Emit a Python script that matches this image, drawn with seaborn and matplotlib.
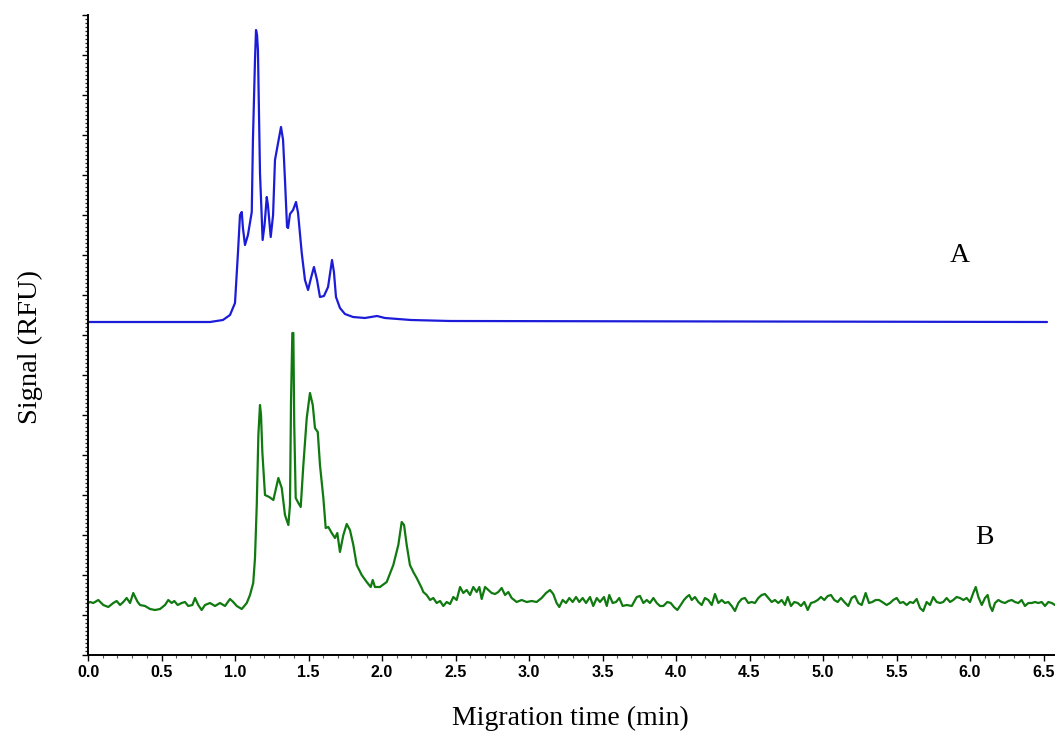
import numpy as np
import pandas as pd
import matplotlib
matplotlib.use("Agg")
import matplotlib.pyplot as plt
from matplotlib.ticker import MultipleLocator, FormatStrFormatter
import seaborn as sns

# Electropherogram A: migration time (min) and signal above its own baseline
time_a = [0.000, 0.830, 0.918, 0.966, 1.000, 1.020, 1.034, 1.046, 1.054, 1.068,
          1.088, 1.114, 1.122, 1.136, 1.143, 1.150, 1.156, 1.170, 1.188, 1.201,
          1.216, 1.224, 1.243, 1.259, 1.272, 1.293, 1.313, 1.327, 1.340, 1.354,
          1.361, 1.374, 1.395, 1.415, 1.429, 1.454, 1.476, 1.497, 1.517, 1.537,
          1.558, 1.578, 1.605, 1.633, 1.660, 1.673, 1.687, 1.714, 1.748, 1.803,
          1.884, 1.966, 2.020, 2.197, 2.463, 6.524]
signal_a = [0, 0, 2, 7, 19, 69, 107, 110, 94, 77,
            87, 110, 182, 262, 292, 287, 272, 149, 82, 97,
            125, 117, 85, 107, 162, 179, 195, 182, 142, 95,
            94, 108, 112, 120, 109, 69, 42, 32, 44, 55,
            42, 25, 26, 35, 62, 50, 25, 14, 8, 5,
            4, 6, 4, 2, 1, 0]

# Electropherogram B: migration time (min) and signal above its own baseline
time_b = [0.000, 0.014, 0.036, 0.070, 0.104, 0.138, 0.172, 0.195, 0.218, 0.240,
          0.263, 0.286, 0.308, 0.324, 0.338, 0.354, 0.388, 0.422, 0.456, 0.490,
          0.524, 0.546, 0.569, 0.587, 0.610, 0.637, 0.660, 0.682, 0.710, 0.728,
          0.750, 0.773, 0.796, 0.830, 0.864, 0.898, 0.932, 0.966, 0.988, 1.012,
          1.046, 1.080, 1.102, 1.124, 1.136, 1.148, 1.159, 1.170, 1.177, 1.186,
          1.204, 1.233, 1.261, 1.295, 1.318, 1.340, 1.363, 1.374, 1.381, 1.390,
          1.397, 1.403, 1.413, 1.431, 1.447, 1.465, 1.488, 1.510, 1.529, 1.544,
          1.563, 1.578, 1.601, 1.617, 1.635, 1.658, 1.680, 1.696, 1.714, 1.737,
          1.760, 1.782, 1.805, 1.828, 1.862, 1.896, 1.923, 1.937, 1.952, 1.986,
          2.032, 2.077, 2.111, 2.134, 2.150, 2.168, 2.190, 2.213, 2.236, 2.270,
          2.281, 2.304, 2.327, 2.349, 2.372, 2.395, 2.417, 2.440, 2.463, 2.485,
          2.508, 2.531, 2.553, 2.576, 2.599, 2.621, 2.644, 2.662, 2.678, 2.701,
          2.723, 2.746, 2.769, 2.791, 2.814, 2.837, 2.859, 2.882, 2.916, 2.950,
          2.984, 3.018, 3.052, 3.086, 3.116, 3.143, 3.165, 3.188, 3.206, 3.229,
          3.252, 3.274, 3.297, 3.320, 3.342, 3.365, 3.388, 3.415, 3.437, 3.461,
          3.483, 3.510, 3.529, 3.546, 3.569, 3.592, 3.614, 3.637, 3.665, 3.699,
          3.733, 3.755, 3.778, 3.801, 3.823, 3.846, 3.869, 3.891, 3.914, 3.941,
          3.964, 3.986, 4.009, 4.032, 4.054, 4.073, 4.090, 4.107, 4.129, 4.152,
          4.175, 4.197, 4.220, 4.243, 4.265, 4.288, 4.311, 4.333, 4.356, 4.379,
          4.401, 4.424, 4.447, 4.469, 4.492, 4.515, 4.537, 4.560, 4.583, 4.605,
          4.628, 4.651, 4.673, 4.696, 4.719, 4.741, 4.760, 4.782, 4.805, 4.828,
          4.850, 4.873, 4.896, 4.918, 4.941, 4.964, 4.986, 5.009, 5.032, 5.054,
          5.077, 5.100, 5.122, 5.145, 5.172, 5.195, 5.218, 5.240, 5.263, 5.290,
          5.313, 5.335, 5.358, 5.381, 5.403, 5.433, 5.456, 5.478, 5.501, 5.524,
          5.546, 5.569, 5.592, 5.614, 5.637, 5.660, 5.682, 5.705, 5.728, 5.750,
          5.773, 5.796, 5.818, 5.841, 5.864, 5.886, 5.909, 5.932, 5.955, 5.977,
          6.000, 6.022, 6.039, 6.057, 6.080, 6.102, 6.120, 6.136, 6.152, 6.170,
          6.193, 6.216, 6.238, 6.261, 6.284, 6.306, 6.329, 6.351, 6.374, 6.397,
          6.420, 6.442, 6.465, 6.488, 6.510, 6.533, 6.556, 6.578]
signal_b = [0, 1, 0, 3, -2, -4, 0, 2, -2, 1,
            5, 0, 10, 5, 1, -2, -3, -6, -7, -6,
            -2, 3, 0, 2, -2, 0, 1, -3, -2, 5,
            -2, -7, -2, 0, -3, 0, -3, 4, 1, -3,
            -6, 0, 8, 20, 45, 98, 168, 198, 188, 151,
            108, 106, 103, 125, 115, 88, 78, 98, 201, 270,
            270, 178, 105, 100, 96, 138, 185, 210, 198, 175,
            171, 138, 105, 75, 76, 70, 65, 70, 51, 68,
            79, 73, 58, 38, 28, 21, 16, 23, 16, 16,
            21, 38, 58, 81, 78, 58, 38, 31, 25, 15,
            11, 8, 3, 5, 0, 2, -3, 1, -1, 6,
            3, 16, 10, 13, 8, 16, 11, 16, 4, 16,
            13, 10, 9, 11, 15, 8, 11, 5, 1, 3,
            1, 2, 1, 5, 10, 13, 9, 0, -4, 3,
            0, 5, 1, 6, 1, 5, 0, 6, -3, 5,
            1, 6, -3, 8, 0, 1, 5, -3, -2, -3,
            6, 7, 0, 3, 0, 5, 0, -3, -3, 1,
            0, -4, -7, -2, 3, 6, 8, 3, 6, 1,
            -2, 5, 3, -2, 9, 0, 3, 0, 1, -3,
            -8, 0, 4, 5, 0, 1, 0, 5, 8, 9,
            5, 1, 3, 0, 3, -2, 6, -3, 1, 0,
            -3, 1, -7, 0, 1, 3, 6, 3, 7, 8,
            3, 1, 5, 1, -3, 5, 7, 0, -2, 10,
            0, 1, 3, 3, 1, -2, 0, 3, 5, 0,
            1, -2, 1, 0, 4, -5, -8, 1, -2, 6,
            1, 0, 1, 5, 1, 3, 6, 5, 3, 5,
            1, 10, 16, 6, -2, 5, 8, -3, -8, 0,
            3, 1, 0, 2, 3, 1, 0, 3, -3, 0,
            0, 1, 0, 1, -3, 1, 0, -2]

trace_labels = ["A", "B"]

# vertical stacking of the two traces on the shared signal axis
offset_a = 333
offset_b = 52

df_a = pd.DataFrame({"time": time_a, "signal": np.array(signal_a) + offset_a})
df_b = pd.DataFrame({"time": time_b, "signal": np.array(signal_b) + offset_b})

sns.set_theme(style="white")
plt.rcParams["font.family"] = ["DejaVu Sans"]

W, H = 1055, 734
fig = plt.figure(figsize=(W / 100, H / 100), dpi=100)
ax = fig.add_axes([88 / W, 79 / H, (W - 88) / W, (655 - 15) / H])

sns.lineplot(data=df_a, x="time", y="signal", ax=ax, color="#1c1cd8",
             linewidth=1.6, sort=False, estimator=None)
sns.lineplot(data=df_b, x="time", y="signal", ax=ax, color="#107a10",
             linewidth=1.6, sort=False, estimator=None)

ax.set_xlim(0, (W - 88) / 147.0)
ax.set_ylim(0, 640)

for side in ("top", "right"):
    ax.spines[side].set_visible(False)
for side in ("left", "bottom"):
    ax.spines[side].set_color("black")
    ax.spines[side].set_linewidth(1.4)

ax.xaxis.set_major_locator(MultipleLocator(0.5))
ax.xaxis.set_minor_locator(MultipleLocator(0.1))
ax.xaxis.set_major_formatter(FormatStrFormatter("%.1f"))
ax.yaxis.set_major_locator(MultipleLocator(40))
ax.yaxis.set_minor_locator(MultipleLocator(4))
ax.tick_params(axis="x", which="major", direction="out", length=4, width=1,
               color="black", bottom=True, pad=3, labelsize=11.5, labelcolor="black")
ax.tick_params(axis="x", which="minor", direction="out", length=2.5, width=0.8,
               color="#555555", bottom=True)
ax.tick_params(axis="y", which="major", direction="out", length=4, width=1,
               color="black", left=True, labelleft=False)
ax.tick_params(axis="y", which="minor", direction="out", length=2.5, width=0.9,
               color="#222222", left=True)
for lbl in ax.get_xticklabels():
    lbl.set_fontweight("bold")
    lbl.set_family(["Liberation Sans", "DejaVu Sans"])

ax.set_xlabel("")
ax.set_ylabel("")

serif = ["Liberation Serif", "DejaVu Serif"]
ax.text(5.93, 400, trace_labels[0], fontsize=20, family=serif,
        ha="center", va="center", color="black")
ax.text(6.10, 118, trace_labels[1], fontsize=20, family=serif,
        ha="center", va="center", color="black")

fig.text(30 / W, 1 - 347 / H, "Signal (RFU)", rotation=90, fontsize=20.5,
         family=serif, ha="center", va="center", color="black")
fig.text(570 / W, 1 - 718 / H, "Migration time (min)", fontsize=20,
         family=serif, ha="center", va="center", color="black")

fig.savefig("out.png", dpi=100, facecolor="white")
